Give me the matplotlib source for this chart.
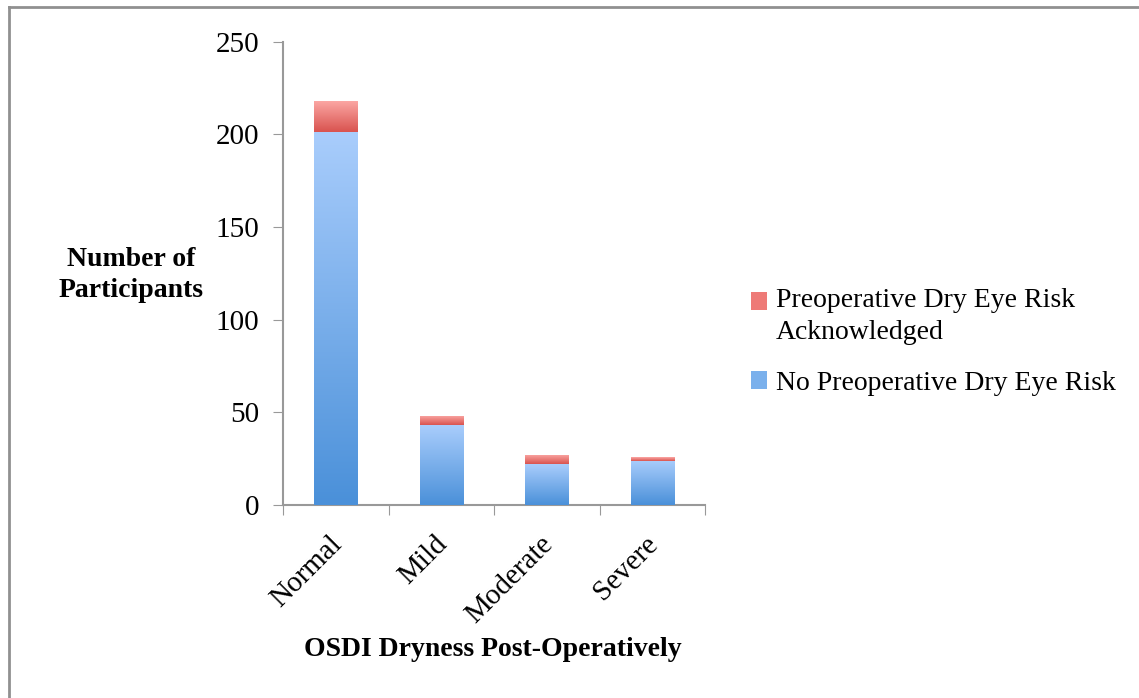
import matplotlib.pyplot as plt
import numpy as np
from matplotlib.lines import Line2D
from matplotlib.colors import LinearSegmentedColormap
from matplotlib.patches import Patch

categories = ["Normal", "Mild", "Moderate", "Severe"]
no_risk = [201, 43, 22, 24]
risk_ack = [17, 5, 5, 2]
yticks = [0, 50, 100, 150, 200, 250]

blue_cmap = LinearSegmentedColormap.from_list("blue", ["#4a90d9", "#a9cdfc"])
red_cmap = LinearSegmentedColormap.from_list("red", ["#d9534f", "#fca9a6"])

plt.rcParams['font.family'] = ['Liberation Serif', 'DejaVu Serif']


def fill_gradient(ax, bars, cmap):
    # replace flat bar faces with a vertical gradient clipped to each bar
    grad = np.linspace(0, 1, 256).reshape(-1, 1)
    for p in bars.patches:
        x0, y0 = p.get_x(), p.get_y()
        w, h = p.get_width(), p.get_height()
        im = ax.imshow(grad, cmap=cmap, origin="lower", aspect="auto",
                       extent=[x0, x0 + w, y0, y0 + h], zorder=3)
        im.set_clip_path(p)
        p.set_facecolor("none")


fig = plt.figure(figsize=(11.39, 6.98), dpi=100)
ax = fig.add_axes([0.2485, 0.2765, 0.3705, 0.664])

x = np.arange(len(categories))
b1 = ax.bar(x, no_risk, width=0.41, linewidth=0, zorder=2)
b2 = ax.bar(x, risk_ack, bottom=no_risk, width=0.41, linewidth=0, zorder=2)
fill_gradient(ax, b1, blue_cmap)
fill_gradient(ax, b2, red_cmap)

ax.set_xlim(-0.5, 3.5)
ax.set_ylim(0, 250)
ax.set_yticks(yticks)
ax.tick_params(axis="y", labelsize=21, length=7, color="#999999", pad=10)
ax.set_xticks(np.arange(-0.5, 4, 1))
ax.set_xticklabels([])
ax.tick_params(axis="x", length=7, color="#999999", direction="out")
for i, c in enumerate(categories):
    ax.text(i - 0.07, -14, c, rotation=45, ha="right", va="top",
            fontsize=21, rotation_mode="anchor")

for s in ["top", "right"]:
    ax.spines[s].set_visible(False)
for s in ["left", "bottom"]:
    ax.spines[s].set_color("#999999")
    ax.spines[s].set_linewidth(1.5)

fig.text(0.115, 0.606, "Number of\nParticipants", ha="center", va="center",
         fontsize=20, fontweight="bold", linespacing=1.35)
fig.text(0.433, 0.069, "OSDI Dryness Post-Operatively", ha="center",
         va="center", fontsize=20, fontweight="bold")

handles = [Patch(facecolor="#ee7a77"), Patch(facecolor="#7ab0ec")]
leg = fig.legend(handles, ["Preoperative Dry Eye Risk\nAcknowledged",
                           "No Preoperative Dry Eye Risk"],
                 loc="center left", bbox_to_anchor=(0.637, 0.51),
                 frameon=False, fontsize=20, handlelength=0.6,
                 handleheight=0.6, handletextpad=0.3, labelspacing=0.95)
for t in leg.get_texts():
    t.set_linespacing(1.35)
# put the first swatch beside the first line of its two-line label
leg.legend_handles[0].set_y(leg.legend_handles[0].get_y() + 11)

# outer frame, left and top edges only
fig.add_artist(Line2D([0.0075, 0.0075], [0, 0.9905], color="#909090", lw=2,
                      transform=fig.transFigure))
fig.add_artist(Line2D([0.0075, 0.999], [0.9905, 0.9905], color="#909090",
                      lw=2, transform=fig.transFigure))

fig.savefig("out.png", dpi=100)
